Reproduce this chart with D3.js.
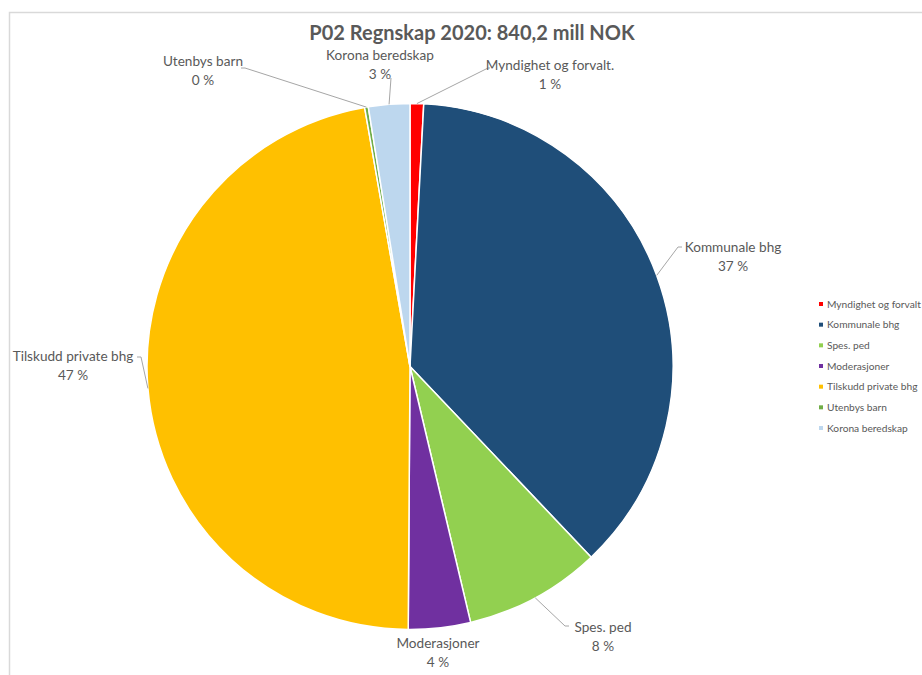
<!DOCTYPE html>
<html><head><meta charset="utf-8">
<script src="https://cdn.jsdelivr.net/npm/d3@7"></script>
<style>
html,body{margin:0;padding:0;background:#fff;}
svg{display:block;font-family:Lato,"Open Sans",sans-serif;}
</style></head>
<body>
<svg id="chart" width="922" height="675"></svg>
<script>
const categories = ["Myndighet og forvalt.","Kommunale bhg","Spes. ped","Moderasjoner","Tilskudd private bhg","Utenbys barn","Korona beredskap"];
const legendLabels = ["Myndighet og forvalt","Kommunale bhg","Spes. ped","Moderasjoner","Tilskudd private bhg","Utenbys barn","Korona beredskap"];
const values = [7.0, 311.5, 70.5, 32.0, 396.0, 1.9, 21.3];
const colors = ["#ff0000","#1f4e79","#92d050","#7030a0","#ffc000","#70ad47","#bdd7ee"];
const title = "P02 Regnskap 2020: 840,2 mill NOK";

// label layout (text anchor point, and elbow end for leader line)
const labelPos = [
  {x:550, y:65, elbow:[488,68], end:[490,68]},
  {x:733, y:247, elbow:[678,247], end:[682,247]},
  {x:603, y:627, elbow:[565,626], end:[569,626]},
  {x:438, y:643, elbow:null},
  {x:73, y:356, elbow:[141,357], end:[137,357]},
  {x:203, y:61, elbow:[245,68], end:[241,68]},
  {x:380, y:55, elbow:[391,78], end:null}
];

const svg = d3.select("#chart");
const textColor = "#595959";

// border
svg.append("path").attr("d","M9.5,675 L9.5,12.5 L922,12.5")
  .attr("fill","none").attr("stroke","#d9d9d9").attr("stroke-width",1.5);

svg.append("text").attr("x",472).attr("y",40).attr("text-anchor","middle")
  .attr("font-size",20).attr("font-weight","bold").attr("fill",textColor).text(title);

const cx = 410, cy = 366.5, R = 263;
const total = d3.sum(values);
const data = categories.map((c,i)=>({cat:c, value:values[i], color:colors[i], i}));
const pie = d3.pie().value(d=>d.value).sort(null);
const arcs = pie(data);
const arc = d3.arc().innerRadius(0).outerRadius(R);
const g = svg.append("g").attr("transform",`translate(${cx},${cy})`);
g.selectAll("path").data(arcs).join("path")
  .attr("d",arc).attr("fill",d=>d.data.color)
  .attr("stroke","#fff").attr("stroke-width",1.5).attr("stroke-linejoin","round");

const pct = v => Math.round(v/total*100) + " %";

arcs.forEach((a,i)=>{
  const lp = labelPos[i];
  const mid = (a.startAngle+a.endAngle)/2;
  const sx = cx + R*Math.sin(mid), sy = cy - R*Math.cos(mid);
  if (lp.elbow) {
    const pts = [[sx,sy], lp.elbow];
    if (lp.end) pts.push(lp.end);
    svg.append("path").attr("d", d3.line()(pts))
      .attr("fill","none").attr("stroke","#a6a6a6").attr("stroke-width",1);
  }
  const t = svg.append("text").attr("text-anchor","middle").attr("font-size",13.6).attr("fill",textColor);
  t.append("tspan").attr("x",lp.x).attr("y",lp.y+4.5).text(a.data.cat);
  t.append("tspan").attr("x",lp.x).attr("y",lp.y+23.5).text(pct(a.data.value));
});

// legend
const lg = svg.append("g").attr("transform","translate(819,304)");
const ly = d3.scalePoint().domain(d3.range(legendLabels.length)).range([0,124]);
legendLabels.forEach((l,i)=>{
  lg.append("rect").attr("x",0).attr("y",ly(i)-2).attr("width",4).attr("height",4).attr("fill",colors[i]);
  lg.append("text").attr("x",8).attr("y",ly(i)+3.5).attr("font-size",10.2).attr("fill",textColor).text(l);
});
</script>
</body></html>
